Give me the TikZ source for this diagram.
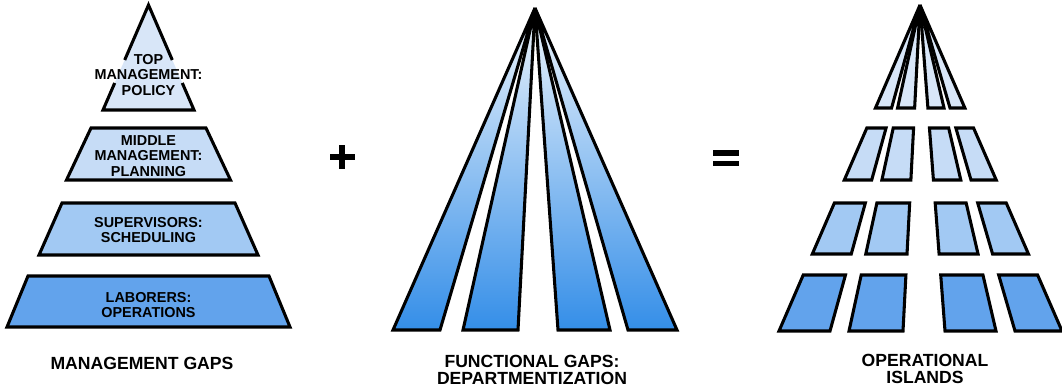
\documentclass[tikz,border=0pt]{standalone}
\usepackage{fontspec}
\setmainfont{Liberation Sans}
\usetikzlibrary{calc}
\definecolor{tierA}{RGB}{216,230,248}
\definecolor{tierB}{RGB}{198,220,246}
\definecolor{tierC}{RGB}{162,201,243}
\definecolor{tierD}{RGB}{98,163,236}
\definecolor{fanTop}{RGB}{238,245,252}
\definecolor{fanBot}{RGB}{52,142,232}
\tikzset{
  outl/.style={draw=black, line width=2.3pt, line join=miter},
  inlabel/.style={font=\fontsize{10.8}{11.6}\selectfont\bfseries, align=center, inner sep=0pt},
  caption/.style={font=\fontsize{13.2}{12.4}\selectfont\bfseries, align=center, inner sep=0pt},
  opsign/.style={fill=black},
}
\begin{document}
\begin{tikzpicture}[x=0.75pt,y=-0.75pt]
\useasboundingbox (0,0) rectangle (1062,387);

% ---------- Left pyramid: management gaps ----------
\fill[tierA] (148.5,5) -- (103,110) -- (194,110) -- cycle;
\draw[outl] (124.7,60) -- (148.5,5) -- (172.3,60);
\draw[outl] (182.3,83) -- (194,110) -- (103,110) -- (114.7,83);
\filldraw[fill=tierB, outl] (91,128) -- (206,128) -- (230.5,180) -- (66.5,180) -- cycle;
\filldraw[fill=tierC, outl] (62,203) -- (235,203) -- (258,255) -- (39,255) -- cycle;
\filldraw[fill=tierD, outl] (28,276) -- (269,276) -- (290,327) -- (7,327) -- cycle;

\node[inlabel] (top) at (148.5,75) {TOP\\MANAGEMENT:\\POLICY};
\node[inlabel] (mid) at (148.5,156) {MIDDLE\\MANAGEMENT:\\PLANNING};
\node[inlabel] (sup) at (148.5,230) {SUPERVISORS:\\SCHEDULING};
\node[inlabel] (lab) at (148.5,305) {LABORERS:\\OPERATIONS};
\node[caption] (mg) at (142,363.5) {MANAGEMENT GAPS};

% ---------- plus sign ----------
\fill[opsign] (329.5,153.7) rectangle (354.5,160.3);
\fill[opsign] (338.7,145) rectangle (345.3,169);

% ---------- Middle fan: functional gaps ----------
\coordinate (F) at (535,8);
\foreach \a/\b in {393/440, 463/518, 558/610, 628/677}
  \shadedraw[top color=fanTop, bottom color=fanBot, outl] (F) -- (\a,330) -- (\b,330) -- cycle;
\node[caption] (fg) at (532,370) {FUNCTIONAL GAPS:\\DEPARTMENTIZATION};

% ---------- equals sign ----------
\fill[opsign] (713.3,150) rectangle (739.3,155.5);
\fill[opsign] (713.3,160.5) rectangle (739.3,166);

% ---------- Right: operational islands ----------
\coordinate (R) at (920,5);
\foreach \a/\b in {779/830, 849/903, 945/996, 1015/1062} {
  \filldraw[fill=tierA, outl] (R) -- ($(R)!0.316!(\a,331)$) -- ($(R)!0.316!(\b,331)$) -- cycle;
  \foreach \ta/\tb/\col in {0.3773/0.5368/tierB, 0.6074/0.7638/tierC, 0.8282/1/tierD}
    \filldraw[fill=\col, outl] ($(R)!\ta!(\a,331)$) -- ($(R)!\ta!(\b,331)$) -- ($(R)!\tb!(\b,331)$) -- ($(R)!\tb!(\a,331)$) -- cycle;
}
\node[caption] (oi) at (925,369) {OPERATIONAL\\ISLANDS};
\end{tikzpicture}
\end{document}
